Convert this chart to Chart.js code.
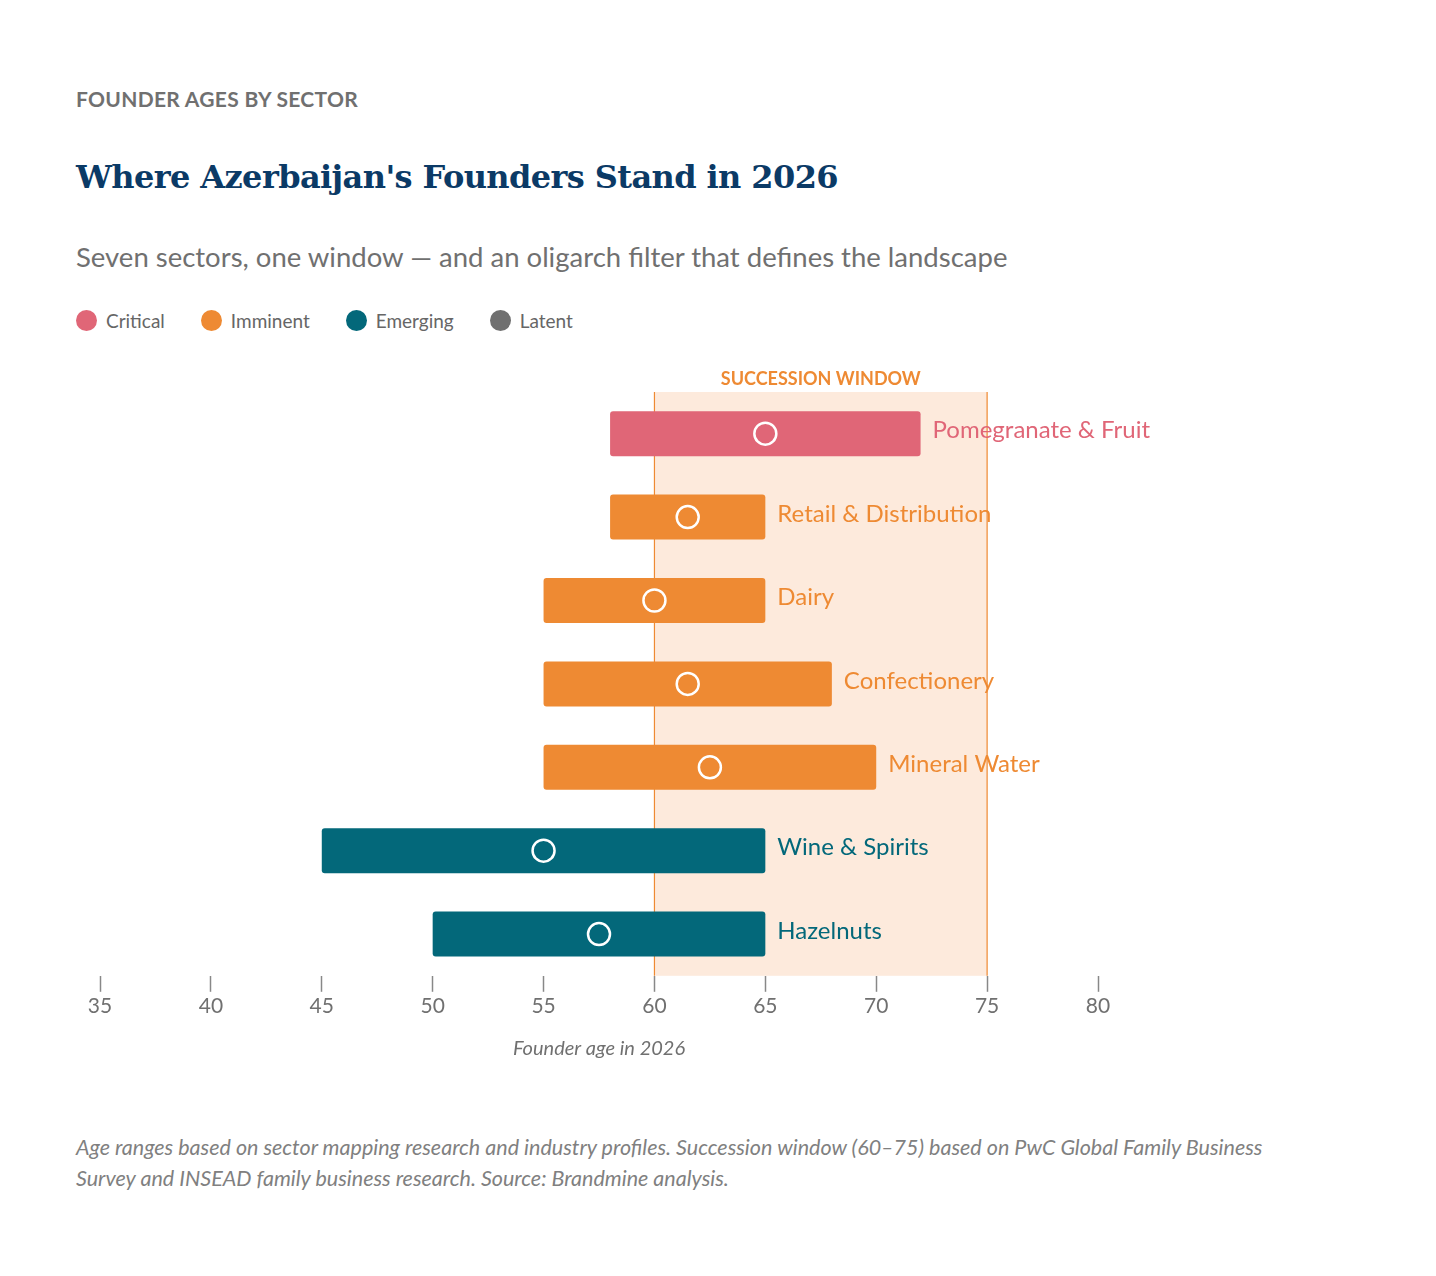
<!DOCTYPE html>
<html><head><meta charset="utf-8">
<script src="https://cdn.jsdelivr.net/npm/chart.js@4"></script>
<style>
body{margin:0;width:1436px;height:1276px;background:#fff;font-family:"Noto Sans",Lato,sans-serif;position:relative;overflow:hidden}
.kick{position:absolute;left:76px;top:86px;font:700 21px Lato,"Noto Sans",sans-serif;color:#707070;letter-spacing:0.3px}
.title{position:absolute;left:76px;top:158px;font:700 32px "DejaVu Serif","Liberation Serif",serif;color:#0b3a66;letter-spacing:-0.6px}
.sub{position:absolute;left:76px;top:240px;font:400 27.5px Lato,"Noto Sans",sans-serif;color:#707070}
.legend{position:absolute;left:76px;top:309px;font:400 19px Lato,"Noto Sans",sans-serif;color:#666;display:flex;gap:36px}
.legend span{display:flex;align-items:center}
.legend i{display:inline-block;width:21px;height:21px;border-radius:50%;margin-right:9px}
.foot{position:absolute;left:76px;top:1132px;font:italic 400 21.5px Lato,"Noto Sans",sans-serif;color:#808080;line-height:31px;width:1200px}
#wrap{position:absolute;left:0;top:360px;width:1436px;height:705px}
</style></head><body>
<div class="kick">FOUNDER AGES BY SECTOR</div>
<div class="title">Where Azerbaijan's Founders Stand in 2026</div>
<div class="sub">Seven sectors, one window — and an oligarch filter that defines the landscape</div>
<div class="legend">
<span><i style="background:#e06677"></i>Critical</span>
<span><i style="background:#ee8a33"></i>Imminent</span>
<span><i style="background:#03687a"></i>Emerging</span>
<span><i style="background:#707070"></i>Latent</span>
</div>
<div id="wrap"><canvas id="c"></canvas></div>
<div class="foot">Age ranges based on sector mapping research and industry profiles. Succession window (60–75) based on PwC Global Family Business Survey and INSEAD family business research. Source: Brandmine analysis.</div>
<script>
const sectors=["Pomegranate & Fruit","Retail & Distribution","Dairy","Confectionery","Mineral Water","Wine & Spirits","Hazelnuts"];
const minAge=[58,58,55,55,55,45,50];
const maxAge=[72,65,65,68,70,65,65];
const medianAge=[65,61.5,60,61.5,62.5,55,57.5];
const status=["Critical","Imminent","Imminent","Imminent","Imminent","Emerging","Emerging"];
const windowRange=[60,75];
const xTicks=[35,40,45,50,55,60,65,70,75,80];
const colors={Critical:"#e06677",Imminent:"#ee8a33",Emerging:"#03687a",Latent:"#707070"};
const cols=status.map(s=>colors[s]);
const F='Lato,"Noto Sans",sans-serif';

const windowPlugin={id:'win',beforeDatasetsDraw(ch){
 const {ctx,chartArea:a,scales:{x}}=ch;
 const x0=x.getPixelForValue(windowRange[0]),x1=x.getPixelForValue(windowRange[1]);
 ctx.save();ctx.fillStyle='#fdeadc';ctx.fillRect(x0,a.top,x1-x0,a.bottom-a.top);
 ctx.strokeStyle='#ee8a33';ctx.lineWidth=1.2;
 ctx.beginPath();ctx.moveTo(x0,a.top);ctx.lineTo(x0,a.bottom);ctx.moveTo(x1,a.top);ctx.lineTo(x1,a.bottom);ctx.stroke();
 ctx.fillStyle='#ee8a33';ctx.font='700 18px '+F;ctx.textAlign='center';ctx.textBaseline='middle';
 ctx.fillText('SUCCESSION WINDOW',(x0+x1)/2,a.top-13);ctx.restore();
},afterDatasetsDraw(ch){
 const {ctx,scales:{x,y}}=ch;ctx.save();ctx.font='400 24px '+F;ctx.textBaseline='middle';ctx.textAlign='left';
 sectors.forEach((s,i)=>{ctx.fillStyle=cols[i];ctx.fillText(s,x.getPixelForValue(maxAge[i])+12,y.getPixelForValue(i)-3);});
 ctx.restore();}};

new Chart(document.getElementById('c'),{
 data:{labels:sectors,datasets:[
  {type:'line',data:medianAge.map((m,i)=>({x:m,y:sectors[i]})),showLine:false,pointRadius:11,pointBorderWidth:2.5,pointBorderColor:'#fff',pointBackgroundColor:'rgba(0,0,0,0)',order:0},
  {type:'bar',data:minAge.map((m,i)=>[m,maxAge[i]]),backgroundColor:cols,borderRadius:3,borderSkipped:false,barPercentage:0.54,categoryPercentage:1,order:1}
 ]},
 options:{indexAxis:'y',responsive:true,maintainAspectRatio:false,animation:false,
  layout:{padding:{left:100,right:338,top:32,bottom:0}},
  plugins:{legend:{display:false},tooltip:{enabled:false}},
  scales:{
   y:{type:'category',display:false,offset:true},
   x:{type:'linear',min:35,max:80,afterBuildTicks:ax=>{ax.ticks=xTicks.map(v=>({value:v}));},
    border:{display:false},
    grid:{drawOnChartArea:false,drawTicks:true,tickLength:16,color:'#888',tickWidth:1.5},
    ticks:{color:'#707070',font:{size:21,family:F},padding:2},
    title:{display:true,text:'Founder age in 2026',color:'#707070',font:{size:20,style:'italic',family:F},padding:{top:16}}}
  }},
 plugins:[windowPlugin]});
</script></body></html>
